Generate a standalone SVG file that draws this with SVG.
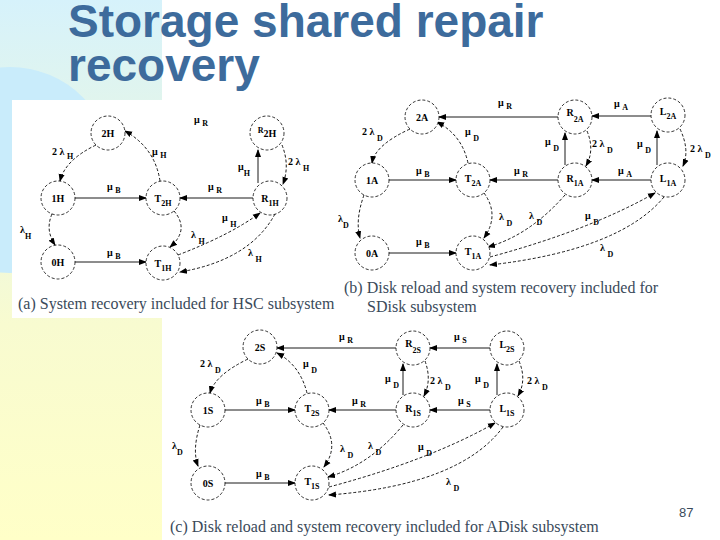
<svg xmlns="http://www.w3.org/2000/svg" width="720" height="540" viewBox="0 0 720 540">
<defs>
<linearGradient id="bg" x1="0" y1="0" x2="0" y2="1"><stop offset="0" stop-color="#d6f2fb"/><stop offset="0.6" stop-color="#f8fbd0"/><stop offset="1" stop-color="#ffffc8"/></linearGradient>
<marker id="ah" markerWidth="8" markerHeight="8" refX="7" refY="4" orient="auto" markerUnits="userSpaceOnUse"><path d="M0,1 L8,4 L0,7 Z" fill="#000"/></marker>
</defs>
<style>
.n circle{fill:#fff;stroke:#000;stroke-width:0.8;stroke-dasharray:3 2}
.n text{font-family:"Liberation Serif",serif;font-size:10px;font-weight:bold;text-anchor:middle}
.e path{fill:none;stroke:#000;stroke-width:0.9;marker-end:url(#ah)}
.e .d{stroke-dasharray:3 2}
.l{font-family:"Liberation Serif",serif;font-size:10px;font-weight:bold}
.s{font-size:8px}
.cap{font-family:"Liberation Serif",serif;font-size:16px;fill:#3a4a5a}
.title{font-family:"Liberation Sans",Arial,sans-serif;font-size:46px;font-weight:bold;fill:#3d6b9c}
</style>
<rect width="720" height="540" fill="#fff"/>
<rect x="0" y="0" width="162" height="540" fill="url(#bg)"/>
<circle cx="10" cy="170" r="103" fill="#c9ecfb"/>
<rect x="12" y="100" width="328" height="218" fill="#fff"/>
<rect x="162" y="318" width="558" height="222" fill="#fff"/>
<text class="title" x="68" y="37">Storage shared repair</text>
<text class="title" x="68" y="81">recovery</text>

<g id="connectors" class="e">
<path d="M75,198 L146,198"/><path d="M253,198 L180,198"/><path d="M75,262 L146,262"/>
<path class="d" d="M96,145 Q65,160 60,181"/><path class="d" d="M160,181 Q155,148 125,131"/>
<path class="d" d="M52,214 Q45,230 55,245"/><path class="d" d="M174,211 Q190,230 170,247"/>
<path d="M258,183 L258,150"/><path class="d" d="M282,145 Q290,165 283,184"/>
<path class="d" d="M178,255 Q230,235 260,213"/><path class="d" d="M275,214 Q250,260 180,272"/>

<path class="d" d="M410,129 Q375,145 372,163"/><path class="d" d="M468,163 Q462,135 437,122"/>
<path d="M389,180 L456,180"/><path d="M558,180 L490,180"/><path d="M389,253 L456,253"/>
<path class="d" d="M364,195 Q355,220 360,238"/><path class="d" d="M484,193 Q500,215 484,238"/>
<path d="M558,117 L439,117"/><path d="M651,116 L592,116"/><path d="M651,180 L592,180"/>
<path d="M565,165 L565,133"/><path class="d" d="M587,131 Q595,150 586,166"/>
<path d="M657,165 L657,131"/><path class="d" d="M680,129 Q690,150 683,166"/>
<path class="d" d="M565,195 Q530,235 488,247"/><path class="d" d="M490,257 Q590,230 655,193"/>
<path class="d" d="M664,197 Q620,250 490,265"/>

<path d="M396,348 L277,348"/><path d="M490,348 L430,348"/><path d="M225,410 L295,410"/>
<path d="M396,410 L329,410"/><path d="M490,410 L430,410"/><path d="M225,483 L295,483"/>
<path class="d" d="M248,359 Q215,375 210,393"/><path class="d" d="M307,393 Q300,365 277,353"/>
<path class="d" d="M200,425 Q192,450 198,466"/><path class="d" d="M323,423 Q340,445 324,467"/>
<path d="M403,395 L403,364"/><path class="d" d="M425,361 Q432,380 424,396"/>
<path d="M497,395 L497,364"/><path class="d" d="M519,361 Q527,380 518,396"/>
<path class="d" d="M403,425 Q370,465 328,477"/><path class="d" d="M329,487 Q430,460 495,423"/>
<path class="d" d="M503,427 Q460,485 329,495"/>
</g>

<g id="n2H" class="n"><circle cx="108" cy="133" r="17"/><text x="108" y="137">2H</text></g>
<g id="n1H" class="n"><circle cx="58" cy="198" r="17"/><text x="58" y="202">1H</text></g>
<g id="nT2H" class="n"><circle cx="163" cy="198" r="17"/><text x="163" y="202">T<tspan class="s" dy="4">2H</tspan></text></g>
<g id="nR1H" class="n"><circle cx="270" cy="198" r="17"/><text x="270" y="202">R<tspan class="s" dy="4">1H</tspan></text></g>
<g id="nR2H" class="n"><circle cx="267" cy="133" r="17"/><text x="267" y="133"><tspan class="s">R</tspan><tspan dy="4">2H</tspan></text></g>
<g id="n0H" class="n"><circle cx="58" cy="262" r="17"/><text x="58" y="266">0H</text></g>
<g id="nT1H" class="n"><circle cx="163" cy="263" r="17"/><text x="163" y="267">T<tspan class="s" dy="4">1H</tspan></text></g>

<g id="n2A" class="n"><circle cx="422" cy="117" r="17"/><text x="422" y="121">2A</text></g>
<g id="n1A" class="n"><circle cx="372" cy="180" r="17"/><text x="372" y="184">1A</text></g>
<g id="nT2A" class="n"><circle cx="473" cy="180" r="17"/><text x="473" y="182">T<tspan class="s" dy="4">2A</tspan></text></g>
<g id="nR2A" class="n"><circle cx="575" cy="117" r="17"/><text x="575" y="116">R<tspan class="s" dy="6">2A</tspan></text></g>
<g id="nR1A" class="n"><circle cx="575" cy="180" r="17"/><text x="575" y="182">R<tspan class="s" dy="4">1A</tspan></text></g>
<g id="nL2A" class="n"><circle cx="668" cy="115" r="17"/><text x="668" y="115">L<tspan class="s" dy="4">2A</tspan></text></g>
<g id="nL1A" class="n"><circle cx="668" cy="180" r="17"/><text x="668" y="182">L<tspan class="s" dy="4">1A</tspan></text></g>
<g id="n0A" class="n"><circle cx="372" cy="253" r="17"/><text x="372" y="257">0A</text></g>
<g id="nT1A" class="n"><circle cx="473" cy="253" r="17"/><text x="473" y="255">T<tspan class="s" dy="4">1A</tspan></text></g>

<g id="n2S" class="n"><circle cx="260" cy="347" r="17"/><text x="260" y="351">2S</text></g>
<g id="n1S" class="n"><circle cx="208" cy="410" r="17"/><text x="208" y="414">1S</text></g>
<g id="nT2S" class="n"><circle cx="312" cy="410" r="17"/><text x="312" y="412">T<tspan class="s" dy="4">2S</tspan></text></g>
<g id="nR2S" class="n"><circle cx="413" cy="348" r="17"/><text x="413" y="347">R<tspan class="s" dy="6">2S</tspan></text></g>
<g id="nR1S" class="n"><circle cx="413" cy="410" r="17"/><text x="413" y="412">R<tspan class="s" dy="4">1S</tspan></text></g>
<g id="nL2S" class="n"><circle cx="507" cy="348" r="17"/><text x="507" y="348">L<tspan class="s" dy="4">2S</tspan></text></g>
<g id="nL1S" class="n"><circle cx="507" cy="410" r="17"/><text x="507" y="412">L<tspan class="s" dy="4">1S</tspan></text></g>
<g id="n0S" class="n"><circle cx="208" cy="483" r="17"/><text x="208" y="487">0S</text></g>
<g id="nT1S" class="n"><circle cx="312" cy="483" r="17"/><text x="312" y="485">T<tspan class="s" dy="4">1S</tspan></text></g>

<g id="labels" class="l">
<text x="194" y="123">μ <tspan class="s" dy="3">R</tspan></text>
<text x="52" y="155">2 λ <tspan class="s" dy="4">H</tspan></text>
<text x="152" y="155">μ <tspan class="s" dy="3">H</tspan></text>
<text x="107" y="190">μ <tspan class="s" dy="3">B</tspan></text>
<text x="208" y="190">μ <tspan class="s" dy="3">R</tspan></text>
<text x="238" y="170">μ<tspan class="s" dy="6">H</tspan></text>
<text x="288" y="165">2 λ <tspan class="s" dy="6">H</tspan></text>
<text x="20" y="233">λ<tspan class="s" dy="6">H</tspan></text>
<text x="107" y="256">μ <tspan class="s" dy="3">B</tspan></text>
<text x="191" y="238">λ <tspan class="s" dy="6">H</tspan></text>
<text x="222" y="221">μ <tspan class="s" dy="6">H</tspan></text>
<text x="248" y="256">λ <tspan class="s" dy="6">H</tspan></text>

<text x="498" y="106">μ <tspan class="s" dy="3">R</tspan></text>
<text x="614" y="107">μ <tspan class="s" dy="3">A</tspan></text>
<text x="362" y="135">2 λ <tspan class="s" dy="6">D</tspan></text>
<text x="465" y="135">μ <tspan class="s" dy="6">D</tspan></text>
<text x="545" y="145">μ <tspan class="s" dy="6">D</tspan></text>
<text x="592" y="147">2 λ <tspan class="s" dy="6">D</tspan></text>
<text x="637" y="147">μ <tspan class="s" dy="6">D</tspan></text>
<text x="690" y="152">2 λ <tspan class="s" dy="6">D</tspan></text>
<text x="416" y="174">μ <tspan class="s" dy="3">B</tspan></text>
<text x="514" y="174">μ <tspan class="s" dy="3">R</tspan></text>
<text x="618" y="174">μ <tspan class="s" dy="3">A</tspan></text>
<text x="338" y="222">λ<tspan class="s" dy="6">D</tspan></text>
<text x="499" y="220">λ <tspan class="s" dy="6">D</tspan></text>
<text x="529" y="219">λ <tspan class="s" dy="6">D</tspan></text>
<text x="585" y="219">μ <tspan class="s" dy="6">D</tspan></text>
<text x="600" y="251">λ <tspan class="s" dy="6">D</tspan></text>
<text x="416" y="245">μ <tspan class="s" dy="3">B</tspan></text>

<text x="339" y="340">μ <tspan class="s" dy="3">R</tspan></text>
<text x="454" y="340">μ <tspan class="s" dy="3">S</tspan></text>
<text x="200" y="367">2 λ <tspan class="s" dy="6">D</tspan></text>
<text x="303" y="367">μ <tspan class="s" dy="6">D</tspan></text>
<text x="385" y="382">μ <tspan class="s" dy="6">D</tspan></text>
<text x="430" y="384">2 λ <tspan class="s" dy="6">D</tspan></text>
<text x="475" y="382">μ <tspan class="s" dy="6">D</tspan></text>
<text x="527" y="384">2 λ <tspan class="s" dy="6">D</tspan></text>
<text x="256" y="404">μ <tspan class="s" dy="3">B</tspan></text>
<text x="352" y="404">μ <tspan class="s" dy="3">R</tspan></text>
<text x="458" y="404">μ <tspan class="s" dy="3">S</tspan></text>
<text x="172" y="449">λ<tspan class="s" dy="6">D</tspan></text>
<text x="340" y="452">λ <tspan class="s" dy="6">D</tspan></text>
<text x="368" y="449">λ <tspan class="s" dy="6">D</tspan></text>
<text x="418" y="450">μ <tspan class="s" dy="6">D</tspan></text>
<text x="446" y="485">λ <tspan class="s" dy="6">D</tspan></text>
<text x="256" y="477">μ <tspan class="s" dy="3">B</tspan></text>
</g>

<text class="cap" x="18" y="309">(a) System recovery included for HSC subsystem</text>
<text class="cap" x="344" y="293">(b) Disk reload and system recovery included for</text>
<text class="cap" x="367" y="312">SDisk subsystem</text>
<text class="cap" x="170" y="532">(c) Disk reload and system recovery included for ADisk subsystem</text>
<text x="679" y="517" style="font-family:'Liberation Sans',sans-serif;font-size:13px;fill:#3a4a5a">87</text>
</svg>
